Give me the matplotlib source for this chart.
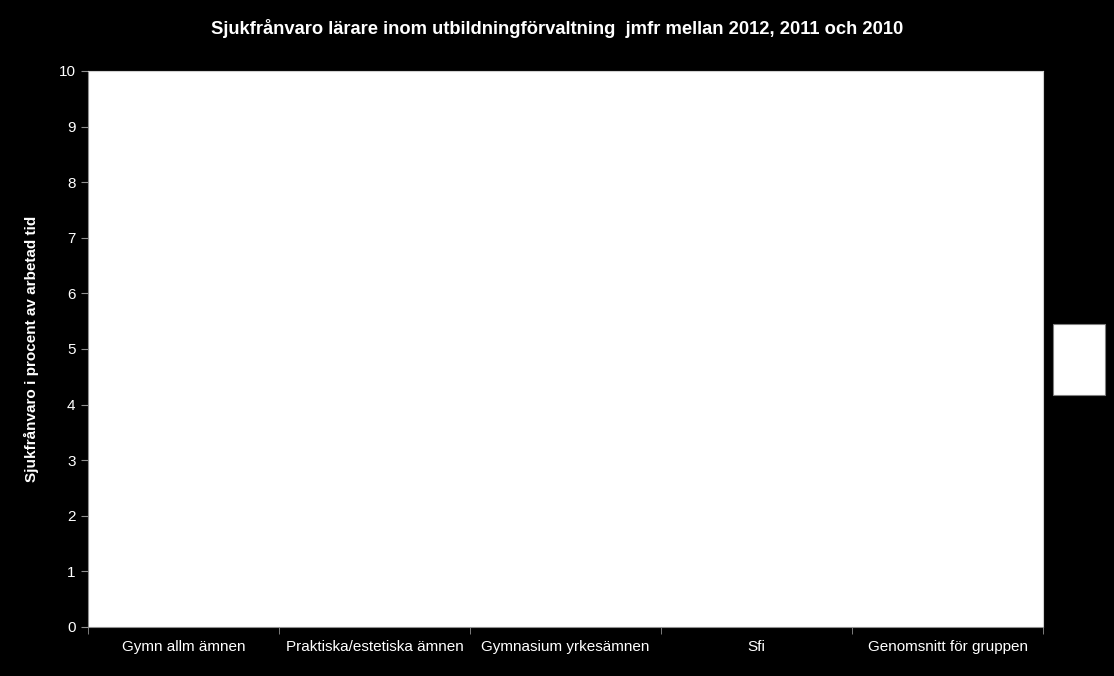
import matplotlib
matplotlib.use("Agg")
import matplotlib.pyplot as plt
import numpy as np

CATEGORIES = ["Gymn allm ämnen", "Praktiska/estetiska ämnen", "Gymnasium yrkesämnen",
              "Sfi", "Genomsnitt för gruppen"]
YEARS = ["2012", "2011", "2010"]
# the reference shows no bars: values missing in the source
VALUES_2012 = [np.nan] * 5
VALUES_2011 = [np.nan] * 5
VALUES_2010 = [np.nan] * 5
Y_TICKS = list(range(0, 11))

FONT = ["Liberation Sans", "DejaVu Sans"]
plt.rcParams["font.family"] = FONT

fig = plt.figure(figsize=(11.14, 6.76), dpi=100, facecolor="black")
ax = fig.add_axes([88 / 1114, 1 - 627 / 676, 955 / 1114, 556 / 676])
ax.set_facecolor("white")

x = np.arange(len(CATEGORIES))
w = 0.25
for i, vals in enumerate([VALUES_2012, VALUES_2011, VALUES_2010]):
    ax.bar(x + (i - 1) * w, vals, width=w, label=YEARS[i])

ax.set_xlim(-0.5, len(CATEGORIES) - 0.5)
ax.set_ylim(0, 10)
ax.set_yticks(Y_TICKS)
ax.set_xticks(x)
ax.set_xticklabels(CATEGORIES)
ax.set_xticks(np.arange(-0.5, len(CATEGORIES)), minor=True)
ax.tick_params(axis="x", which="major", length=0, pad=17, colors="white", labelsize=11)
ax.tick_params(axis="x", which="minor", length=5, color="#909090")
ax.tick_params(axis="y", length=5, color="#909090", labelcolor="white", labelsize=11, pad=4)
for lab in ax.get_xticklabels():
    lab.set_verticalalignment("baseline")

for side in ["left", "bottom"]:
    ax.spines[side].set_color("#909090")
for side in ["top", "right"]:
    ax.spines[side].set_color("#d0d0d0")

ax.set_ylabel("Sjukfrånvaro i procent av arbetad tid", color="white",
              fontsize=11, fontweight="bold", labelpad=14)
fig.text(557 / 1114, 1 - 28 / 676,
         "Sjukfrånvaro lärare inom utbildningförvaltning  jmfr mellan 2012, 2011 och 2010",
         color="white", fontsize=13.2, fontweight="bold", ha="center", va="center")

# empty legend box at the right, as in the reference
box = plt.Rectangle((1053 / 1114, 1 - 395 / 676), 52 / 1114, 71 / 676,
                    transform=fig.transFigure, facecolor="white",
                    edgecolor="#808080", lw=0.8)
fig.patches.append(box)

fig.savefig("out.png", dpi=100, facecolor="black")
